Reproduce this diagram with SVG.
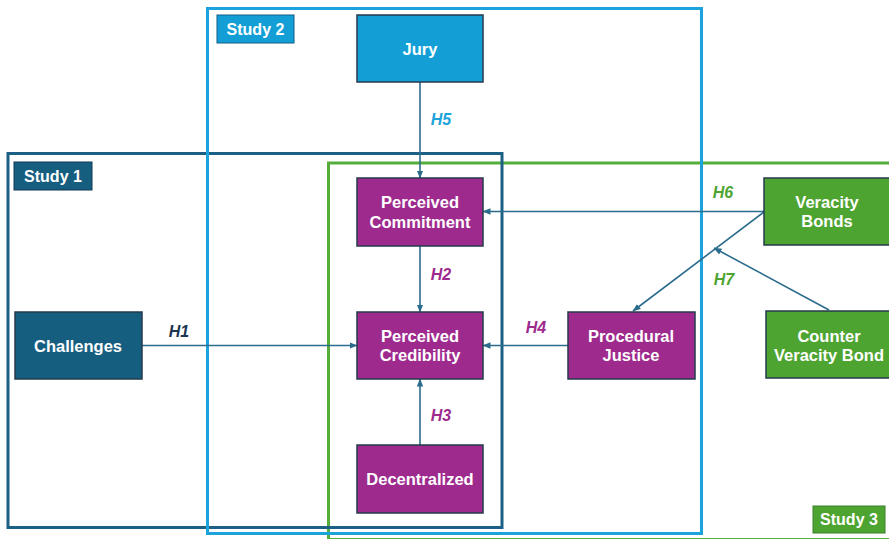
<svg xmlns="http://www.w3.org/2000/svg" width="889" height="539" viewBox="0 0 889 539">
  <defs>
    <marker id="arrow" markerUnits="userSpaceOnUse" markerWidth="8" markerHeight="8" viewBox="0 0 8 8" refX="7.5" refY="4" orient="auto">
      <path d="M0,0.8 L8,4 L0,7.2 Z" fill="#2b6b8c"/>
    </marker>
    <style>
      .frame { fill: none; stroke-width: 3; }
      .node rect { stroke: #263a4c; stroke-width: 1.5; }
      .node text, .tag text { font-family: "Liberation Sans", Arial, sans-serif; font-weight: bold; fill: #ffffff; text-anchor: middle; }
      .node text { font-size: 16.5px; }
      .tag text { font-size: 16px; }
      .navy { fill: #165e80; }
      .sky { fill: #139fd6; }
      .purple { fill: #9e2a8e; }
      .green { fill: #4ea431; }
      .link { stroke: #2b6b8c; stroke-width: 1.6; fill: none; marker-end: url(#arrow); }
      .hyp { font-family: "Liberation Sans", Arial, sans-serif; font-weight: bold; font-style: italic; font-size: 16px; }
    </style>
  </defs>

  <rect width="889" height="539" fill="#ffffff"/>

  <!-- study frames -->
  <g id="study3">
    <rect class="frame" x="328.5" y="163" width="570" height="376.5" stroke="#55ad3a"/>
    <g class="tag"><rect x="813" y="506" width="72" height="27" class="green" stroke="#3c7f2a" stroke-width="1"/><text x="849" y="525">Study 3</text></g>
  </g>
  <g id="study1">
    <rect class="frame" x="8" y="153.5" width="494" height="374" stroke="#1c6185"/>
    <g class="tag"><rect x="14" y="162" width="78" height="28" class="navy" stroke="#0e3a52" stroke-width="1"/><text x="53" y="182">Study 1</text></g>
  </g>
  <g id="study2">
    <rect class="frame" x="207.5" y="8.5" width="494" height="525" stroke="#1ca3dc"/>
    <g class="tag"><rect x="217" y="15" width="77" height="28" class="sky" stroke="#0f5f85" stroke-width="1"/><text x="255.5" y="35">Study 2</text></g>
  </g>

  <!-- connectors -->
  <g id="connectors">
    <line class="link" x1="420" y1="82" x2="420" y2="178"/>
    <line class="link" x1="420" y1="246" x2="420" y2="312"/>
    <line class="link" x1="420" y1="445" x2="420" y2="379"/>
    <line class="link" x1="142" y1="345.5" x2="357" y2="345.5"/>
    <line class="link" x1="568" y1="345.5" x2="483" y2="345.5"/>
    <line class="link" x1="764" y1="211.5" x2="483" y2="211.5"/>
    <line class="link" x1="764" y1="212" x2="633" y2="311"/>
    <line class="link" x1="829" y1="310" x2="714" y2="248"/>
    <text class="hyp" x="441" y="125" fill="#1ca3dc" text-anchor="middle">H5</text>
    <text class="hyp" x="441" y="280" fill="#9e2a8e" text-anchor="middle">H2</text>
    <text class="hyp" x="441" y="421" fill="#9e2a8e" text-anchor="middle">H3</text>
    <text class="hyp" x="179" y="337" fill="#1a3550" text-anchor="middle">H1</text>
    <text class="hyp" x="536" y="333" fill="#9e2a8e" text-anchor="middle">H4</text>
    <text class="hyp" x="723" y="198" fill="#4ea431" text-anchor="middle">H6</text>
    <text class="hyp" x="724" y="285" fill="#4ea431" text-anchor="middle">H7</text>
  </g>

  <!-- nodes -->
  <g id="jury" class="node">
    <rect x="357" y="15" width="126" height="67" class="sky"/>
    <text x="420" y="55">Jury</text>
  </g>
  <g id="perceived-commitment" class="node">
    <rect x="357" y="178" width="126" height="68" class="purple"/>
    <text x="420" y="208">Perceived</text>
    <text x="420" y="228">Commitment</text>
  </g>
  <g id="perceived-credibility" class="node">
    <rect x="357" y="312" width="126" height="67" class="purple"/>
    <text x="420" y="342">Perceived</text>
    <text x="420" y="361">Credibility</text>
  </g>
  <g id="decentralized" class="node">
    <rect x="357" y="445" width="126" height="68" class="purple"/>
    <text x="420" y="485">Decentralized</text>
  </g>
  <g id="challenges" class="node">
    <rect x="15" y="312" width="127" height="67" class="navy"/>
    <text x="78" y="352">Challenges</text>
  </g>
  <g id="procedural-justice" class="node">
    <rect x="568" y="312" width="127" height="67" class="purple"/>
    <text x="631" y="342">Procedural</text>
    <text x="631" y="361">Justice</text>
  </g>
  <g id="veracity-bonds" class="node">
    <rect x="764" y="178" width="127" height="67" class="green"/>
    <text x="827" y="208">Veracity</text>
    <text x="827" y="227">Bonds</text>
  </g>
  <g id="counter-veracity-bond" class="node">
    <rect x="766" y="311" width="127" height="67" class="green"/>
    <text x="829" y="342">Counter</text>
    <text x="829" y="361">Veracity Bond</text>
  </g>
</svg>
